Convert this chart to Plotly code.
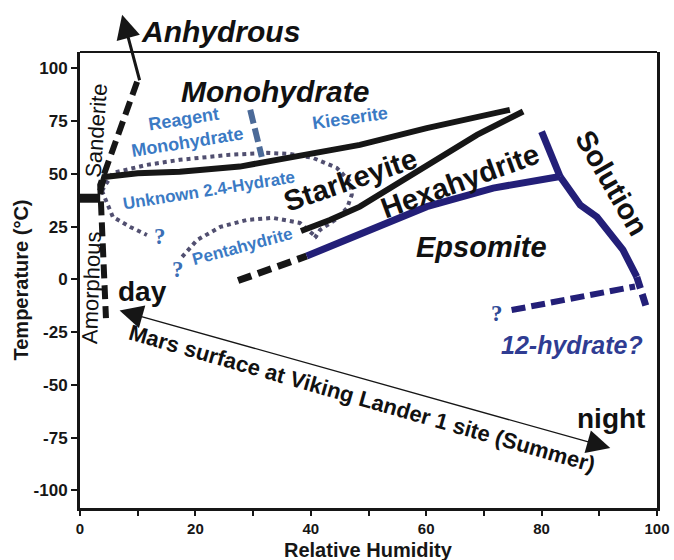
import plotly.graph_objects as go

# ---------------- data (Relative Humidity %, Temperature °C) ----------------
x_ticks = [0, 10, 20, 30, 40, 50, 60, 70, 80, 90, 100]
x_ticktext = ["0", "", "20", "", "40", "", "60", "", "80", "", "100"]
y_ticks = [-100, -75, -50, -25, 0, 25, 50, 75, 100]
y_ticktext = ["-100", "-75", "-50", "-25", "0", "25", "50", "75", "100"]
y_range = [-108.3, 107.8]
x_title = "Relative Humidity"
y_title = "Temperature (°C)"

# Sanderite / amorphous boundary (black dashed)
sand_x = [9.9, 3.5, 4.5]
sand_y = [93.7, 44.8, -18.3]
# short thick bar at left
bar_x = [0, 3.5]
bar_y = [38.5, 38.5]
# Monohydrate / Starkeyite boundary (black solid)
mono_x = [3.5, 4.2, 10.0, 17.3, 27.7, 40.0, 48.5, 60.1, 74.5]
mono_y = [42.0, 48.6, 50.3, 51.0, 53.5, 59.4, 63.8, 71.7, 80.4]
# Starkeyite / Hexahydrite boundary (black solid)
stark_x = [38.3, 43.3, 48.5, 60.1, 68.8, 76.8]
stark_y = [23.0, 28.2, 34.5, 53.5, 68.5, 79.6]
# black dashed extension below
low_dash_x = [27.4, 39.3]
low_dash_y = [-0.5, 11.1]
# Hexahydrite / Epsomite boundary (navy)
eps_x = [39.3, 48.5, 60.1, 71.6, 83.2]
eps_y = [11.1, 21.4, 34.5, 43.3, 48.8]
# navy upper branch
up_x = [80.0, 83.2]
up_y = [70.1, 48.8]
# Solution boundary (navy)
sol_x = [83.2, 86.7, 89.6, 94.1, 96.5]
sol_y = [48.8, 35.3, 29.6, 14.0, 1.2]
sol_dash_x = [96.5, 98.3]
sol_dash_y = [1.2, -14.5]
# 12-hydrate boundary (navy dashed)
h12_x = [74.8, 96.2]
h12_y = [-14.5, -3.3]
# Unknown 2.4-hydrate dome (dotted)
unk_x = [3.8, 5.7, 11.6, 17.3, 26.0, 32.4, 36.4, 40.4, 44.5, 46.8, 47.1, 46.3, 44.2, 41.6, 40.7]
unk_y = [42.0, 50.5, 54.3, 56.7, 59.1, 60.0, 59.5, 57.6, 52.9, 46.3, 40.1, 33.9, 28.2, 23.5, 19.7]
unk_low_x = [3.8, 5.7, 8.7, 11.6]
unk_low_y = [42.0, 29.6, 24.9, 21.1]
# Pentahydrite dome (dotted)
pent_x = [17.7, 20.3, 24.3, 28.9, 33.4, 38.1, 39.9, 41.1]
pent_y = [10.7, 18.7, 24.9, 28.2, 29.2, 26.8, 22.5, 19.7]
# Reagent monohydrate / kieserite boundary (slate dashed)
reag_x = [29.5, 31.5]
reag_y = [80.4, 58.1]
# arrows
anh_tail = (10.4, 93.7)
anh_tip = (7.3, 125.5)
mars_start = (6.6, -14.5)
mars_end = (91.9, -79.9)

# labels: text, x, y, size, color, angle
labels = [
    ("<b><i>Monohydrate</i></b>", 33.8, 88.9, 30, "#111111", 0),
    ("<b>Reagent<br>Monohydrate</b>", 18.2, 70.4, 18, "#3b7ac4", -9),
    ("<b>Kieserite</b>", 46.8, 76.6, 18, "#3b7ac4", -8),
    ("Sanderite", 2.9, 70.4, 22, "#111111", -86),
    ("<b>Unknown 2.4-Hydrate</b>", 22.3, 42.3, 17, "#3b7ac4", -9),
    ("<b>Starkeyite</b>", 46.8, 47.2, 29, "#111111", -19),
    ("<b>Hexahydrite</b>", 65.9, 46.7, 29, "#111111", -20),
    ("<b><i>Epsomite</i></b>", 69.5, 15.4, 29, "#111111", 0),
    ("<b>Solution</b>", 92.2, 45.8, 29, "#111111", 60),
    ("<b>Pentahydrite</b>", 28.2, 15.4, 17, "#3b7ac4", -15),
    ("Amorphous", 1.9, -3.6, 22, "#111111", -88),
    ("<b>day</b>", 10.9, -5.9, 28, "#111111", 0),
    ("<b>Mars surface at Viking Lander 1 site (Summer)</b>", 48.9, -56.6, 22, "#111111", 16),
    ("<b>night</b>", 92.0, -65.7, 28, "#111111", 0),
    ("<b><i>12-hydrate?</i></b>", 85.3, -31.1, 25, "#2f3c92", 0),
]
# label placed above the plotting range (paper y computed from data value)
top_label = ("<b><i>Anhydrous</i></b>", 24.3, 117.4, 30, "#111111")
qmarks = [(13.9, 20.2, "#3b6fb5"), (17.0, 4.5, "#3b6fb5"), (72.3, -15.9, "#2e4a96")]

BLACK = "#161616"
NAVY = "#231f78"
DOT = "#514f70"
SLATE = "#4b6a98"

fig = go.Figure()


def add_line(xs, ys, color, width, dash="solid"):
    fig.add_trace(go.Scatter(x=xs, y=ys, mode="lines",
                             line=dict(color=color, width=width, dash=dash),
                             hoverinfo="skip", showlegend=False))


add_line(unk_x, unk_y, DOT, 4, "4px,4px")
add_line(unk_low_x, unk_low_y, DOT, 4, "4px,4px")
add_line(pent_x, pent_y, DOT, 4, "4px,4px")
add_line(reag_x, reag_y, SLATE, 6, "14px,5px")
add_line(sand_x, sand_y, BLACK, 6, "14px,7px")
add_line(bar_x, bar_y, BLACK, 9)
add_line(mono_x, mono_y, BLACK, 6)
add_line(stark_x, stark_y, BLACK, 6)
add_line(low_dash_x, low_dash_y, BLACK, 7, "14px,7px")
add_line(eps_x, eps_y, NAVY, 7)
add_line(up_x, up_y, NAVY, 7)
add_line(sol_x, sol_y, NAVY, 7)
add_line(sol_dash_x, sol_dash_y, NAVY, 7, "12px,6px")
add_line(h12_x, h12_y, NAVY, 6, "14px,6px")

FONT = "Liberation Sans, Arial, Helvetica, sans-serif"

for t, x, y, s, c, a in labels:
    fig.add_annotation(x=x, y=y, xref="x", yref="y", text=t, showarrow=False,
                       textangle=a, font=dict(family=FONT, size=s, color=c),
                       xanchor="center", yanchor="middle")

t, x, y, s, c = top_label
fig.add_annotation(x=x, y=(y - y_range[0]) / (y_range[1] - y_range[0]), xref="x", yref="paper",
                   text=t, showarrow=False, font=dict(family=FONT, size=s, color=c),
                   xanchor="center", yanchor="middle")

for x, y, c in qmarks:
    fig.add_annotation(x=x, y=y, xref="x", yref="y", text="<b>?</b>", showarrow=False,
                       font=dict(family="Liberation Serif, Times New Roman, serif", size=23, color=c))

# Anhydrous arrow
fig.add_annotation(x=anh_tip[0], y=anh_tip[1], ax=anh_tail[0], ay=anh_tail[1],
                   xref="x", yref="y", axref="x", ayref="y", text="",
                   showarrow=True, arrowhead=2, arrowsize=1.6, arrowwidth=3,
                   arrowcolor=BLACK)
# Mars double arrow
fig.add_annotation(x=mars_end[0], y=mars_end[1], ax=mars_start[0], ay=mars_start[1],
                   xref="x", yref="y", axref="x", ayref="y", text="",
                   showarrow=True, arrowhead=2, startarrowhead=2, arrowside="end+start",
                   arrowsize=3.6, startarrowsize=3.6, arrowwidth=1.3, arrowcolor=BLACK)

# x-axis title, anchored to the bottom edge of the figure
fig.add_annotation(x=0.5, y=-0.118, xref="paper", yref="paper", text=f"<b>{x_title}</b>",
                   showarrow=False, xanchor="center", yanchor="bottom", borderpad=0,
                   font=dict(family=FONT, size=20, color=BLACK))

# top border (thinner)
fig.add_shape(type="line", xref="paper", yref="paper", x0=0, x1=1, y0=1, y1=1,
              line=dict(color=BLACK, width=2))

fig.update_layout(
    width=674, height=560,
    margin=dict(l=80, r=17, t=52, b=52, autoexpand=False),
    paper_bgcolor="white", plot_bgcolor="white",
    font=dict(family=FONT, color=BLACK),
    showlegend=False,
)
fig.update_xaxes(range=[0, 100], tickvals=x_ticks,
                 ticktext=[f"<b>{t}</b>" if t else "" for t in x_ticktext], automargin=False,
                 showgrid=False, zeroline=False, showline=True, linewidth=3,
                 linecolor=BLACK, mirror=False, ticks="outside", ticklen=5,
                 tickwidth=2, tickcolor=BLACK,
                 tickfont=dict(family=FONT, size=15, color=BLACK))
fig.update_yaxes(range=y_range, tickvals=y_ticks,
                 ticktext=[f"<b>{t}</b>" for t in y_ticktext], automargin=False,
                 showgrid=False, zeroline=False, showline=True, linewidth=3,
                 linecolor=BLACK, mirror=True, ticks="outside", ticklen=6,
                 tickwidth=2, tickcolor=BLACK,
                 tickfont=dict(family=FONT, size=17, color=BLACK),
                 title=dict(text=f"<b>{y_title}</b>", standoff=0,
                            font=dict(family=FONT, size=20, color=BLACK)))

fig.write_html("out.html")
